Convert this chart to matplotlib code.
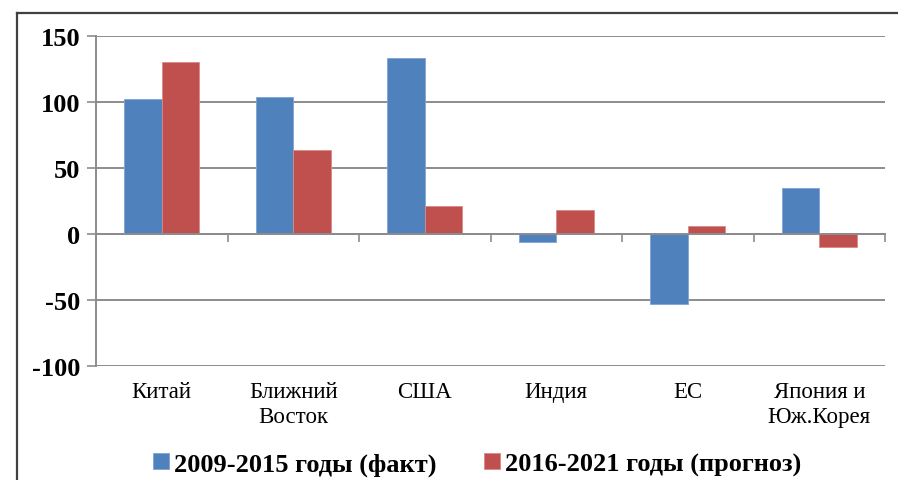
import matplotlib
matplotlib.use("Agg")
import matplotlib.pyplot as plt
from matplotlib.lines import Line2D
import numpy as np

# Данные
categories = ['Китай', 'Ближний\nВосток', 'США', 'Индия', 'ЕС', 'Япония и\nЮж.Корея']
fact_2009_2015 = [102, 104, 133, -6, -53, 35]
forecast_2016_2021 = [130, 64, 21, 18, 6, -10]
series_labels = ['2009-2015 годы (факт)', '2016-2021 годы (прогноз)']
y_ticks = [-100, -50, 0, 50, 100, 150]

color_blue = '#4F81BD'
color_red = '#C0504D'
grid_color = '#8C8C8C'
serif = 'Liberation Serif'

fig = plt.figure(figsize=(8.98, 4.81), dpi=100)
ax = fig.add_axes([96 / 898, 1 - 367 / 481, (885 - 96) / 898, (367 - 37) / 481])

x = np.arange(len(categories))
w = 1 / 3.5  # зазор 150%
ax.bar(x - w / 2, fact_2009_2015, w, color=color_blue, edgecolor='#7FA3D4', linewidth=0.6,
       label=series_labels[0], zorder=3)
ax.bar(x + w / 2, forecast_2016_2021, w, color=color_red, edgecolor='#D98A88', linewidth=0.6,
       label=series_labels[1], zorder=3)

ax.set_xlim(-0.5, len(categories) - 0.5)
ax.set_ylim(-100, 150)
ax.set_yticks(y_ticks)
ax.set_yticklabels([str(v) for v in y_ticks], fontsize=19, fontweight='bold', family=serif)
ax.yaxis.grid(True, color=grid_color, linewidth=1.4, zorder=0)
ax.tick_params(axis='y', direction='out', length=6.5, width=1.2, color=grid_color, pad=5)

# ось категорий проходит через ноль
ax.spines['bottom'].set_position(('data', 0))
ax.spines['bottom'].set_color(grid_color)
ax.spines['bottom'].set_linewidth(1.4)
ax.spines['bottom'].set_zorder(4)
ax.spines['left'].set_color(grid_color)
ax.spines['left'].set_linewidth(1.4)
ax.spines['top'].set_visible(False)
ax.spines['right'].set_visible(False)
ax.set_xticks(np.arange(len(categories) + 1) - 0.5)
ax.set_xticklabels([])
ax.tick_params(axis='x', direction='out', length=6, width=1.2, color=grid_color)

for i, lab in enumerate(categories):
    ax.text(i, -0.045, lab, transform=ax.get_xaxis_transform(), ha='center', va='top',
            fontsize=16.5, linespacing=1.25, family=serif)

fig.legend(loc='center', bbox_to_anchor=(477 / 898, 1 - 465 / 481), ncol=2, frameon=False,
           prop={'family': serif, 'size': 19, 'weight': 'bold'}, handlelength=0.6,
           handleheight=0.6, handletextpad=0.2, columnspacing=1.8)

# рамка области диаграммы
fig.add_artist(Line2D([17 / 898, 1], [1 - 14 / 481, 1 - 14 / 481], color='#404040', linewidth=1.6))
fig.add_artist(Line2D([17 / 898, 17 / 898], [0, 1 - 14 / 481], color='#404040', linewidth=1.6))

fig.savefig('out.png', dpi=100)
